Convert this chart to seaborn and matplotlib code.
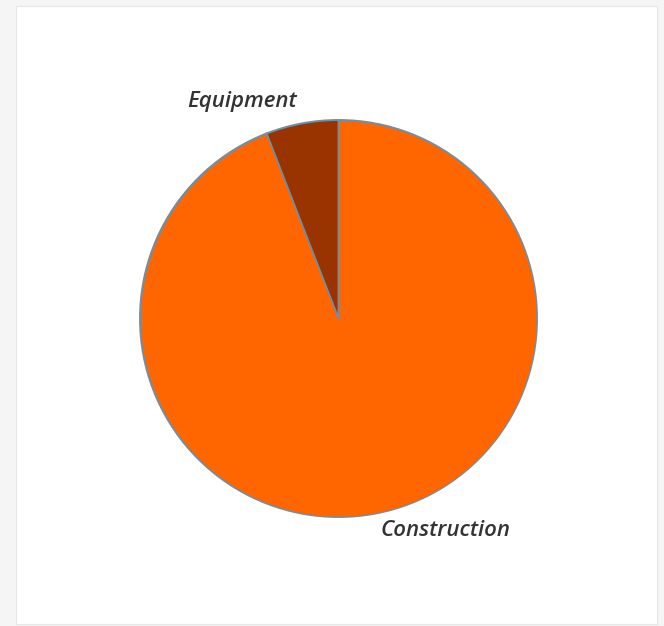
import matplotlib
matplotlib.use("Agg")
import matplotlib.pyplot as plt
import seaborn as sns
from matplotlib.patches import Rectangle

categories = ["Construction", "Equipment"]
values = [94.1, 5.9]
colors = ["#FF6600", "#993300"]

sns.set_style("white")
plt.rcParams['font.family'] = ['Open Sans', 'DejaVu Sans']

W, H = 664, 626
fig = plt.figure(figsize=(W / 100, H / 100), dpi=100)
fig.patch.set_facecolor("#f5f5f5")
fig.patches.append(Rectangle((16 / W, 1 - 624 / H), (657 - 16) / W, (624 - 6) / H,
                             transform=fig.transFigure, facecolor="white",
                             edgecolor="#e6e6e6", linewidth=0.8, zorder=-10))

cx, cy, r = 338.5, 318.5, 198.5
ax = fig.add_axes([(cx - r) / W, 1 - (cy + r) / H, 2 * r / W, 2 * r / H])
ax.set_zorder(5)
ax.set_facecolor("none")
wedges, _ = ax.pie(values, colors=colors, startangle=90, counterclock=False,
                   wedgeprops=dict(edgecolor="#7f8a93", linewidth=1.4),
                   radius=1, frame=False)
ax.set_xlim(-1, 1)
ax.set_ylim(-1, 1)
ax.axis("off")

label_pos = {"Equipment": (-0.486, 1.091), "Construction": (0.537, -1.066)}
for name in categories:
    x, y = label_pos[name]
    ax.text(x, y, name, ha="center", va="center", fontsize=16,
            fontstyle="italic", fontweight="semibold", color="#333333",
            clip_on=False)

fig.savefig("out.png", dpi=100, facecolor=fig.get_facecolor())
